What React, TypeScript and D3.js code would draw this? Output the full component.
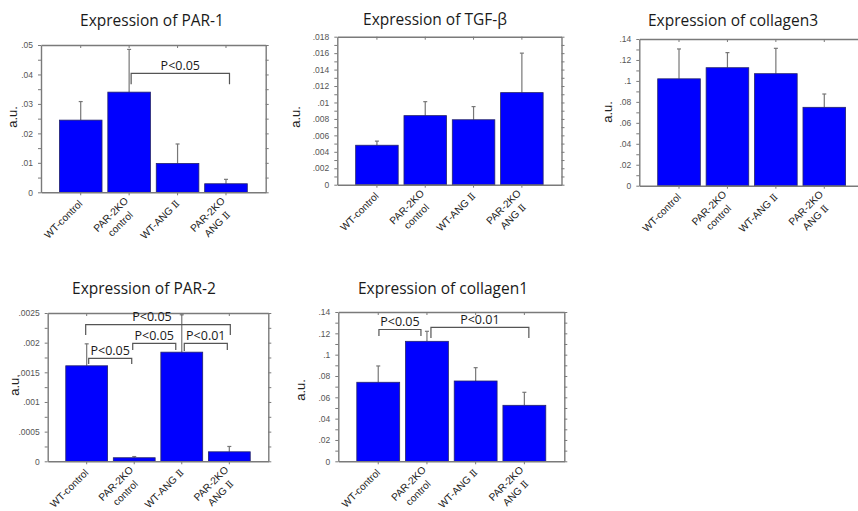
import { useEffect, useRef } from 'react';
import * as d3 from 'd3';

// x categories shared by all five panels
const categories = ['WT-control', 'PAR-2KO\ncontrol', 'WT-ANG Ⅱ', 'PAR-2KO\nANG Ⅱ'];

// means and (upper) error bar lengths
const par1Means = [0.0245, 0.034, 0.0098, 0.0029];
const par1Errs = [0.0063, 0.0145, 0.0066, 0.0015];

const tgfMeans = [0.0048, 0.0084, 0.0079, 0.0112];
const tgfErrs = [0.0005, 0.0017, 0.0016, 0.0048];

const col3Means = [0.102, 0.1126, 0.1069, 0.0748];
const col3Errs = [0.0285, 0.0144, 0.0242, 0.0127];

const par2Means = [0.00161, 0.00006, 0.00184, 0.00016];
const par2Errs = [0.00037, 0.00002, 0.00063, 0.00009];

const col1Means = [0.0741, 0.1125, 0.0753, 0.0525];
const col1Errs = [0.0153, 0.0094, 0.0125, 0.0122];

// significance brackets: category indices, bracket height, leg ends (data units)
const par1Brackets = [{ from: 1, to: 3, top: 0.0404, leg1: 0.0367, leg2: 0.0367, label: 'P<0.05' }];
const par2Brackets = [
  { from: 0, to: 3, top: 0.002303, leg1: 0.002129, leg2: 0.002129, label: 'P<0.05' },
  { from: 0, to: 1, top: 0.001736, leg1: 0.00164, leg2: 0.00164, label: 'P<0.05' },
  { from: 1, to: 2, top: 0.001989, leg1: 0.001876, leg2: 0.001876, label: 'P<0.05' },
  { from: 2, to: 3, top: 0.001989, leg1: 0.001859, leg2: 0.001876, label: 'P<0.01' },
];
const col1Brackets = [
  { from: 0, to: 1, top: 0.1236, leg1: 0.1175, leg2: 0.1175, label: 'P<0.05' },
  { from: 1, to: 3, top: 0.1255, leg1: 0.1157, leg2: 0.1157, label: 'P<0.01' },
];

// little pixel nudges so bracket legs clear the error bars (left end, right end, label)
const bracketNudges = {
  'PAR-1': [[2, 3.5, 0]],
  'PAR-2': [[-1, 1, -6], [2, -2.5, 0], [-1.5, -6, 0], [2.5, -2, 0]],
  'collagen1': [[0.7, -6, 0], [4, 4.5, 0]],
};

const panels = [
  { key: 'PAR-1', title: 'Expression of PAR-1', means: par1Means, errs: par1Errs, yMax: 0.05, major: 0.01,
    brackets: par1Brackets, box: [41, 45, 265.7, 192.3], titleX: 152, titleY: 26, labelX: 17, labelY: 117 },
  { key: 'TGF', title: 'Expression of TGF-β', means: tgfMeans, errs: tgfErrs, yMax: 0.018, major: 0.002,
    brackets: [], box: [337.3, 36.7, 561.5, 184.7], titleX: 435, titleY: 25, labelX: 300, labelY: 117 },
  { key: 'collagen3', title: 'Expression of collagen3', means: col3Means, errs: col3Errs, yMax: 0.14, major: 0.02,
    brackets: [], box: [639.3, 39, 864, 185.7], titleX: 733, titleY: 26, labelX: 611.5, labelY: 112 },
  { key: 'PAR-2', title: 'Expression of PAR-2', means: par2Means, errs: par2Errs, yMax: 0.0025, major: 0.0005,
    brackets: par2Brackets, box: [47.7, 313, 268.3, 461.3], titleX: 144, titleY: 294, labelX: 18.5, labelY: 385 },
  { key: 'collagen1', title: 'Expression of collagen1', means: col1Means, errs: col1Errs, yMax: 0.14, major: 0.02,
    brackets: col1Brackets, box: [338.3, 312, 564.3, 461.3], titleX: 443, titleY: 294, labelX: 305, labelY: 390 },
];

const fmt = (v: number) => (v === 0 ? '0' : String(+v.toFixed(6)).replace(/^0\./, '.'));

// write a label line, giving the roman numeral its own serif face
const fillLine = (t: any, s: string) => {
  s.split(/(Ⅱ)/).filter(Boolean).forEach(part => {
    const ts = t.append('tspan').text(part);
    if (part === 'Ⅱ') ts.attr('font-family', "'DejaVu Serif', serif").attr('font-size', 9.5);
  });
};

export default function App() {
  const svgRef = useRef<SVGSVGElement>(null);

  useEffect(() => {
    if (!svgRef.current) return;
    const svg = d3.select(svgRef.current);
    svg.selectAll('*').remove();

    const axisColor = '#7a7a7a';

    panels.forEach(p => {
      const [x0, y0, x1, y1] = p.box;
      const x = d3.scaleBand().domain(categories).range([x0, x1]).paddingInner(0.12).paddingOuter(0.38);
      const y = d3.scaleLinear().domain([0, p.yMax]).range([y1, y0]);
      const cx = (c: string) => (x(c) as number) + x.bandwidth() / 2;
      const g = svg.append('g');

      const n = Math.round(p.yMax / p.major);
      const majors = d3.range(n + 1).map(i => i * p.major);
      const minors = d3.range(2 * n + 1).map(i => (i * p.major) / 2);

      // title
      g.append('text')
        .attr('x', p.titleX)
        .attr('y', p.titleY)
        .attr('text-anchor', 'middle')
        .attr('font-family', "'Open Sans', sans-serif")
        .attr('font-size', 15.5)
        .attr('fill', '#1a1a1a')
        .text(p.title);

      const data = categories.map((c, i) => ({ c, m: p.means[i], e: p.errs[i] }));

      // error bars (upper only)
      g.selectAll('line.err')
        .data(data)
        .join('line')
        .attr('x1', d => cx(d.c))
        .attr('x2', d => cx(d.c))
        .attr('y1', d => y(d.m))
        .attr('y2', d => y(d.m + d.e))
        .attr('stroke', '#777')
        .attr('stroke-width', 1.2);
      g.selectAll('line.cap')
        .data(data)
        .join('line')
        .attr('x1', d => cx(d.c) - 2)
        .attr('x2', d => cx(d.c) + 2)
        .attr('y1', d => y(d.m + d.e))
        .attr('y2', d => y(d.m + d.e))
        .attr('stroke', '#777')
        .attr('stroke-width', 1.2);

      // bars
      g.selectAll('rect.bar')
        .data(data)
        .join('rect')
        .attr('x', d => x(d.c) as number)
        .attr('y', d => y(d.m))
        .attr('width', x.bandwidth())
        .attr('height', d => y1 - y(d.m))
        .attr('fill', '#0000ff')
        .attr('stroke', '#25256a')
        .attr('stroke-width', 0.8);

      const styleAxis = (sel: any) => {
        sel.select('.domain').attr('stroke', axisColor).attr('stroke-width', 1.4);
        sel.selectAll('.tick line').attr('stroke', axisColor).attr('stroke-width', 1);
      };

      // left axis with minor ticks
      g.append('g')
        .attr('transform', `translate(${x0},0)`)
        .call(
          d3.axisLeft(y)
            .tickValues(minors)
            .tickSize(3)
            .tickSizeOuter(0)
            .tickPadding(5)
            .tickFormat((v: any) => (majors.some(m => Math.abs(m - v) < 1e-9) ? fmt(v) : ''))
        )
        .call(styleAxis)
        .call(s => s.selectAll('.tick text')
          .attr('font-family', "'Liberation Sans', Arial, sans-serif")
          .attr('font-size', 8.5)
          .attr('fill', '#555'));

      // right axis
      g.append('g')
        .attr('transform', `translate(${x1},0)`)
        .call(d3.axisRight(y).tickValues(minors).tickSize(3).tickSizeOuter(0).tickFormat(() => ''))
        .call(styleAxis);

      // bottom / top axes
      g.append('g')
        .attr('transform', `translate(0,${y1})`)
        .call(d3.axisBottom(x).tickSize(3).tickSizeOuter(0).tickFormat(() => ''))
        .call(styleAxis);
      g.append('g')
        .attr('transform', `translate(0,${y0})`)
        .call(d3.axisTop(x).tickSize(-3).tickSizeOuter(0).tickFormat(() => ''))
        .call(styleAxis);

      // rotated category labels
      categories.forEach(c => {
        const lines = c.split('\n');
        const lg = g.append('g')
          .attr('transform', `translate(${cx(c) + 2.5},${y1 + 12}) rotate(-45)`)
          .attr('font-family', "'Liberation Sans', Arial, sans-serif")
          .attr('font-size', 10.2)
          .attr('fill', '#222');
        const t1 = lg.append('text').attr('text-anchor', 'end');
        fillLine(t1, lines[0]);
        if (lines.length > 1) {
          const t2 = lg.append('text').attr('text-anchor', 'end');
          fillLine(t2, lines[1]);
          const w1 = (t1.node() as SVGTextElement).getComputedTextLength();
          const w2 = (t2.node() as SVGTextElement).getComputedTextLength();
          t1.attr('y', -4);
          t2.attr('x', -(w1 - w2) / 2).attr('y', 9.5);
        }
      });

      // y label
      g.append('text')
        .attr('transform', `translate(${p.labelX},${p.labelY}) rotate(-90)`)
        .attr('text-anchor', 'middle')
        .attr('font-family', "'Liberation Sans', Arial, sans-serif")
        .attr('font-size', 13)
        .attr('fill', '#222')
        .text('a.u.');

      // significance brackets
      const nudges = (bracketNudges as any)[p.key] || [];
      p.brackets.forEach((b, i) => {
        const [n1, n2, n3] = nudges[i] || [0, 0, 0];
        const xl = cx(categories[b.from]) + n1;
        const xr = cx(categories[b.to]) + n2;
        g.append('path')
          .attr('d', `M${xl},${y(b.leg1)}V${y(b.top)}H${xr}V${y(b.leg2)}`)
          .attr('fill', 'none')
          .attr('stroke', '#555')
          .attr('stroke-width', 1.2);
        g.append('text')
          .attr('x', (xl + xr) / 2 + n3)
          .attr('y', y(b.top) - 3.5)
          .attr('text-anchor', 'middle')
          .attr('font-family', "'Open Sans', sans-serif")
          .attr('font-size', 12.5)
          .attr('fill', '#1a1a1a')
          .text(b.label);
      });
    });
  }, []);

  return (
    <svg
      ref={svgRef}
      width={858}
      height={511}
      viewBox="0 0 858 511"
      style={{ position: 'absolute', left: 0, top: 0, background: '#fff' }}
    />
  );
}
